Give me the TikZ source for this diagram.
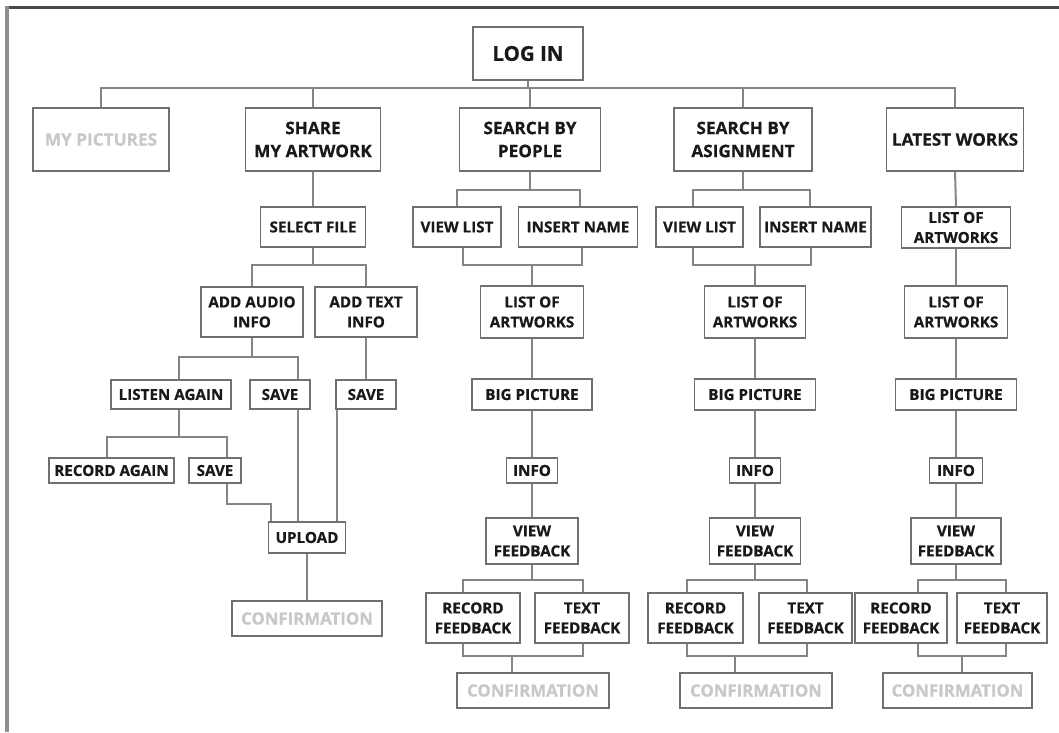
\documentclass[tikz,border=0pt]{standalone}
\usepackage{fontspec}
\setsansfont{Open Sans}[BoldFeatures={FakeBold=0.5}]
\definecolor{boxc}{HTML}{707070}
\definecolor{linec}{HTML}{858585}
\definecolor{lightc}{HTML}{C8C8C8}
\definecolor{topc}{HTML}{4A4A4A}
\definecolor{leftc}{HTML}{8E8E8E}
\tikzset{
  box/.style={draw=boxc, line width=1.4pt, fill=white, inner sep=0pt, align=center, text=black!90,
    font=\sffamily\bfseries\fontsize{15.2}{20}\selectfont},
  lvl/.style={box, font=\sffamily\bfseries\fontsize{17.2}{23}\selectfont},
  dim/.style={text=lightc},
  cfbox/.style={box, dim, font=\sffamily\bfseries\fontsize{16.8}{20}\selectfont},
  conn/.style={draw=linec, line width=2pt},
}
\newcommand{\bx}[6]{\node[#1, minimum width=#4pt, minimum height=#5pt] (#2) at (#3) {#6};}
\begin{document}
\begin{tikzpicture}[x=1pt,y=-1pt]
\useasboundingbox (0,0) rectangle (1059,732);
\fill[white] (0,0) rectangle (1059,732);
% frame
\draw[topc, line width=3pt] (5,7.5) -- (1059,7.5);
\draw[leftc, line width=4pt] (7,6) -- (7,732);
% bus levels
\coordinate (B88) at (0,88);
\coordinate (B190) at (0,190);
\coordinate (B265) at (0,265);
\coordinate (B357) at (0,357);
\coordinate (B437) at (0,437);
\coordinate (B580) at (0,580);
\coordinate (B656) at (0,656);
\coordinate (bend) at (271,504);
% top
\bx{box,font=\sffamily\bfseries\fontsize{20.5}{24}\selectfont}{login}{528,53.5}{110}{53}{LOG IN}
\bx{lvl,dim}{mypic}{101,139.5}{136}{63}{MY PICTURES}
\bx{lvl}{share}{313,139.5}{135}{63}{SHARE\\MY ARTWORK}
\bx{lvl}{people}{530,139.5}{141}{63}{SEARCH BY\\PEOPLE}
\bx{lvl}{asg}{743,139.5}{138}{63}{SEARCH BY\\ASIGNMENT}
\bx{lvl}{late}{955,139.5}{137}{63}{LATEST WORKS}
% share column
\bx{box}{sel}{313,227}{105}{40}{SELECT FILE}
\bx{box}{audio}{252,312}{102}{50}{ADD AUDIO\\INFO}
\bx{box}{textinfo}{366,312}{102}{50}{ADD TEXT\\INFO}
\bx{box}{listen}{171,394.5}{120}{29}{LISTEN AGAIN}
\bx{box}{saveA}{280,394.5}{60}{29}{SAVE}
\bx{box}{saveB}{366,394.5}{60}{29}{SAVE}
\bx{box}{recagain}{111.5,470.5}{125}{25}{RECORD AGAIN}
\bx{box}{saveC}{215,470.5}{52}{25}{SAVE}
\bx{box}{upload}{307,537.5}{77}{31}{UPLOAD}
\bx{cfbox}{cfA}{307,618.5}{150}{35}{CONFIRMATION}
% people column
\bx{box}{vlP}{457,227}{88}{40}{VIEW LIST}
\bx{box}{inP}{578,227}{119}{40}{INSERT NAME}
\bx{box}{loaP}{532,312}{103}{52}{LIST OF\\ARTWORKS}
\bx{box}{bpP}{532,394.5}{120}{31}{BIG PICTURE}
\bx{box}{infoP}{532,470.5}{51}{25}{INFO}
\bx{box}{vfP}{532,541}{92}{46}{VIEW\\FEEDBACK}
\bx{box}{rfP}{473,618}{94}{50}{RECORD\\FEEDBACK}
\bx{box}{tfP}{582,618}{94}{50}{TEXT\\FEEDBACK}
\bx{cfbox}{cfP}{533,690.5}{152}{35}{CONFIRMATION}
% assignment column
\bx{box}{vlS}{699.5,227}{87}{40}{VIEW LIST}
\bx{box}{inS}{815.5,227}{111}{40}{INSERT NAME}
\bx{box}{loaS}{755,312}{101}{52}{LIST OF\\ARTWORKS}
\bx{box}{bpS}{755,394.5}{121}{31}{BIG PICTURE}
\bx{box}{infoS}{755,470.5}{51}{25}{INFO}
\bx{box}{vfS}{755,541}{91}{46}{VIEW\\FEEDBACK}
\bx{box}{rfS}{695.5,618}{95}{50}{RECORD\\FEEDBACK}
\bx{box}{tfS}{805.5,618}{93}{50}{TEXT\\FEEDBACK}
\bx{cfbox}{cfS}{756,690.5}{152}{35}{CONFIRMATION}
% latest column
\bx{box}{loaL}{956,227.5}{109}{41}{LIST OF\\ARTWORKS}
\bx{box}{loaM}{956,312}{103}{52}{LIST OF\\ARTWORKS}
\bx{box}{bpL}{956,394.5}{121}{31}{BIG PICTURE}
\bx{box}{infoL}{956,470.5}{53}{25}{INFO}
\bx{box}{vfL}{956,541}{90}{46}{VIEW\\FEEDBACK}
\bx{box}{rfL}{901,618}{92}{50}{RECORD\\FEEDBACK}
\bx{box}{tfL}{1002,618}{90}{50}{TEXT\\FEEDBACK}
\bx{cfbox}{cfL}{957.5,690.5}{149}{35}{CONFIRMATION}
% connectors: top
\draw[conn] (mypic.north) -- (mypic.north |- B88) -| (late.north);
\draw[conn] (login.south) -- (login.south |- B88);
\draw[conn] (share.north) -- (share.north |- B88);
\draw[conn] (people.north) -- (people.north |- B88);
\draw[conn] (asg.north) -- (asg.north |- B88);
% share
\draw[conn] (share.south) -- (sel.north);
\draw[conn] (sel.south) -- (sel.south |- B265);
\draw[conn] (audio.north) -- (audio.north |- B265) -| (textinfo.north);
\draw[conn] (audio.south) -- (audio.south |- B357);
\draw[conn] ([xshift=8pt]listen.north) -- ([xshift=8pt]listen.north |- B357) -| ([xshift=18pt]saveA.north);
\draw[conn] (textinfo.south) -- (saveB.north);
\draw[conn] ([xshift=8pt]listen.south) -- ([xshift=8pt]listen.south |- B437);
\draw[conn] ([xshift=-4.5pt]recagain.north) -- ([xshift=-4.5pt]recagain.north |- B437) -| ([xshift=12pt]saveC.north);
\draw[conn] ([xshift=12pt]saveC.south) |- (bend) -- (bend |- upload.north);
\draw[conn] ([xshift=18pt]saveA.south) -- ([xshift=18pt]saveA.south |- upload.north);
\draw[conn] ([xshift=-29pt]saveB.south) -- ([xshift=-29pt]saveB.south |- upload.north);
\draw[conn] (upload.south) -- (cfA.north);
% people
\draw[conn] (people.south) -- (people.south |- B190);
\draw[conn] (vlP.north) -- (vlP.north |- B190) -| ([xshift=2pt]inP.north);
\draw[conn] ([xshift=6pt]vlP.south) -- ([xshift=6pt]vlP.south |- B265) -| ([xshift=4pt]inP.south);
\draw[conn] (loaP.north) -- (loaP.north |- B265);
\draw[conn] (loaP.south) -- (bpP.north);
\draw[conn] (bpP.south) -- (infoP.north);
\draw[conn] (infoP.south) -- (vfP.north);
\draw[conn] (vfP.south) -- (vfP.south |- B580);
\draw[conn] ([xshift=-10pt]rfP.north) -- ([xshift=-10pt]rfP.north |- B580) -| ([xshift=1pt]tfP.north);
\draw[conn] ([xshift=-10pt]rfP.south) -- ([xshift=-10pt]rfP.south |- B656) -| ([xshift=1pt]tfP.south);
\draw[conn] ([xshift=-21pt]cfP.north) -- ([xshift=-21pt]cfP.north |- B656);
% assignment
\draw[conn] (asg.south) -- (asg.south |- B190);
\draw[conn] ([xshift=-6.5pt]vlS.north) -- ([xshift=-6.5pt]vlS.north |- B190) -| ([xshift=-5.5pt]inS.north);
\draw[conn] ([xshift=-6.5pt]vlS.south) -- ([xshift=-6.5pt]vlS.south |- B265) -| ([xshift=-4.5pt]inS.south);
\draw[conn] (loaS.north) -- (loaS.north |- B265);
\draw[conn] (loaS.south) -- (bpS.north);
\draw[conn] (bpS.south) -- (infoS.north);
\draw[conn] (infoS.south) -- (vfS.north);
\draw[conn] (vfS.south) -- (vfS.south |- B580);
\draw[conn] ([xshift=-8.5pt]rfS.north) -- ([xshift=-8.5pt]rfS.north |- B580) -| ([xshift=1.5pt]tfS.north);
\draw[conn] ([xshift=-8.5pt]rfS.south) -- ([xshift=-8.5pt]rfS.south |- B656) -| ([xshift=1.5pt]tfS.south);
\draw[conn] ([xshift=-21pt]cfS.north) -- ([xshift=-21pt]cfS.north |- B656);
% latest
\draw[conn] (late.south) -- (loaL.north);
\draw[conn] (loaL.south) -- (loaM.north);
\draw[conn] (loaM.south) -- (bpL.north);
\draw[conn] (bpL.south) -- (infoL.north);
\draw[conn] (infoL.south) -- (vfL.north);
\draw[conn] (vfL.south) -- (vfL.south |- B580);
\draw[conn] ([xshift=17pt]rfL.north) -- ([xshift=17pt]rfL.north |- B580) -| ([xshift=4pt]tfL.north);
\draw[conn] ([xshift=17pt]rfL.south) -- ([xshift=17pt]rfL.south |- B656) -| ([xshift=4pt]tfL.south);
\draw[conn] ([xshift=4.5pt]cfL.north) -- ([xshift=4.5pt]cfL.north |- B656);
\end{tikzpicture}
\end{document}
